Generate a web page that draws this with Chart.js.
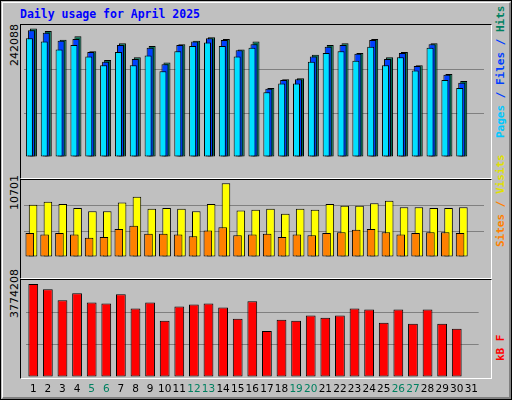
<!DOCTYPE html>
<html><head><meta charset="utf-8">
<script src="https://cdn.jsdelivr.net/npm/chart.js@4"></script>
<style>
body{margin:0;width:512px;height:400px;overflow:hidden;background:#fff}
#frame{position:absolute;left:0;top:0;width:510px;height:398px;border:1px solid #000;background:#c0c0c0}
#inner{position:absolute;left:1px;top:1px;width:506px;height:394px;border-top:1px solid #fff;border-left:1px solid #fff;border-right:2px solid #808080;border-bottom:2px solid #808080}
.panel{position:absolute;left:20px;width:470px;border-top:1px solid #000;border-left:1px solid #000;border-right:1px solid #fff;border-bottom:1px solid #fff}
.c{position:absolute}
.rot{position:absolute;transform-origin:0 0;transform:rotate(-90deg);white-space:nowrap;font-family:"DejaVu Sans";font-size:11px}
.mono{font-family:"DejaVu Sans Mono";font-size:11px;font-weight:bold}
#title{position:absolute;left:20px;top:7px;font-family:"DejaVu Sans Mono";font-weight:bold;font-size:11.5px;color:#0000ff}
</style></head><body>
<div id="frame"><div id="inner"></div></div>
<div id="title">Daily usage for April 2025</div>
<div class="panel" style="top:24px;height:153px"></div>
<div class="panel" style="top:179px;height:98px"></div>
<div class="panel" style="top:279px;height:98px"></div>
<div class="rot" style="left:8px;top:66px">242088</div>
<div class="rot" style="left:8px;top:210px">10701</div>
<div class="rot" style="left:8px;top:318px">3774208</div>
<div class="rot mono" style="left:494px;top:138px"><span style="color:#00c8ff">Pages</span><span style="color:#0040ff"> / Files / </span><span style="color:#008060">Hits</span></div>
<div class="rot mono" style="left:494px;top:247px"><span style="color:#ff8000">Sites</span><span style="color:#ff8000"> / </span><span style="color:#e0e000">Visits</span></div>
<div class="rot mono" style="left:494px;top:361px;color:#ff0000">kB F</div>
<canvas id="c1" class="c" style="left:24px;top:25px;width:460px;height:152px"></canvas>
<canvas id="c2" class="c" style="left:24px;top:180px;width:460px;height:97px"></canvas>
<canvas id="c3" class="c" style="left:24px;top:280px;width:460px;height:117px"></canvas>
<script>
const days=["1","2","3","4","5","6","7","8","9","10","11","12","13","14","15","16","17","18","19","20","21","22","23","24","25","26","27","28","29","30","31"];
const weekend=[5,6,12,13,19,20,26,27];
const hits=[235670,230861,214829,221242,193987,177955,208416,182765,203606,173146,206813,213226,219638,216432,197194,211622,126653,142685,144288,187574,205210,208416,190781,216432,182765,192384,168336,208416,152304,139478,null];
const files=[232500,227700,213200,216400,192400,174700,205200,179600,200400,169900,205200,211600,218000,214800,195600,206800,125000,141100,142700,184400,202000,205200,189200,214800,179600,190800,166700,206800,150700,136300,null];
const pages=[218000,211600,197200,205200,184400,168300,192400,168300,186000,157100,194000,203600,210000,203600,184400,200400,118600,134700,134700,174700,190800,194000,176400,202000,168300,182800,158700,200400,141100,126700,null];
const visits=[7246,7692,7358,6800,6354,6354,7581,8361,6689,6800,6689,6354,7358,10256,6466,6577,6689,6020,6689,6577,7358,7135,7135,7469,7804,6912,6912,6800,6800,6912,null];
const sites=[3344,3121,3344,3121,2676,2787,3902,4348,3233,3233,3121,2898,3679,4125,3010,3121,3233,2787,3121,3010,3344,3456,3790,3902,3456,3121,3344,3456,3456,3344,null];
const kbytes=[3615704,3417764,2982296,3259412,2903120,2863532,3219824,2665592,2903120,2190536,2744768,2823944,2863532,2705180,2269712,2942708,1794656,2230124,2190536,2388476,2309300,2388476,2665592,2626004,2111360,2626004,2071772,2626004,2071772,1873832,null];
const maxHits=242088, maxVisits=10701, maxKB=3774208;

function yAxis(max){
  return {min:0,max:max,display:true,border:{display:false},
    ticks:{display:false,stepSize:max/3,padding:0},
    afterBuildTicks:a=>{a.ticks=[0,max/3,2*max/3,max].map(v=>({value:v}));},
    grid:{drawTicks:false,tickLength:0,color:c=>(c.index===1||c.index===2)?'#808080':'rgba(0,0,0,0)',lineWidth:1}};
}
function ds(data,color,cp,bp,order){return {data:data,order:order,backgroundColor:color,borderColor:'#000',borderWidth:1,borderSkipped:false,categoryPercentage:cp,barPercentage:bp};}
const base={responsive:false,animation:false,plugins:{legend:{display:false},tooltip:{enabled:false}},layout:{padding:0}};
Chart.defaults.devicePixelRatio=1;
function mk(id,w,h,datasets,max,showX){
  const cv=document.getElementById(id);cv.width=w;cv.height=h;
  new Chart(cv,{type:'bar',data:{labels:days,datasets:datasets},options:Object.assign({},base,{scales:{
    x:{display:showX,grid:{display:false,drawTicks:false},border:{display:false},
      afterFit:s=>{s.height=20;},
      ticks:{padding:6,font:{family:'DejaVu Sans',size:10.5},autoSkip:false,maxRotation:0,
        color:c=>weekend.includes(c.index+1)?'#008060':'#000'}},
    y:yAxis(max)}})});
}
mk('c1',460,152,[ds(hits,'#006c50',0.405,3.5,2),ds(files,'#0040ff',0.405,3.5,1),ds(pages,'#00e0ff',0.405,3.5,0)],maxHits,false);
mk('c2',460,97,[ds(visits,'#ffff00',0.445,2.6,1),ds(sites,'#ff8000',0.445,2.6,0)],maxVisits,false);
mk('c3',460,117,[ds(kbytes,'#ff0000',0.67,1,0)],maxKB,true);
</script></body></html>
